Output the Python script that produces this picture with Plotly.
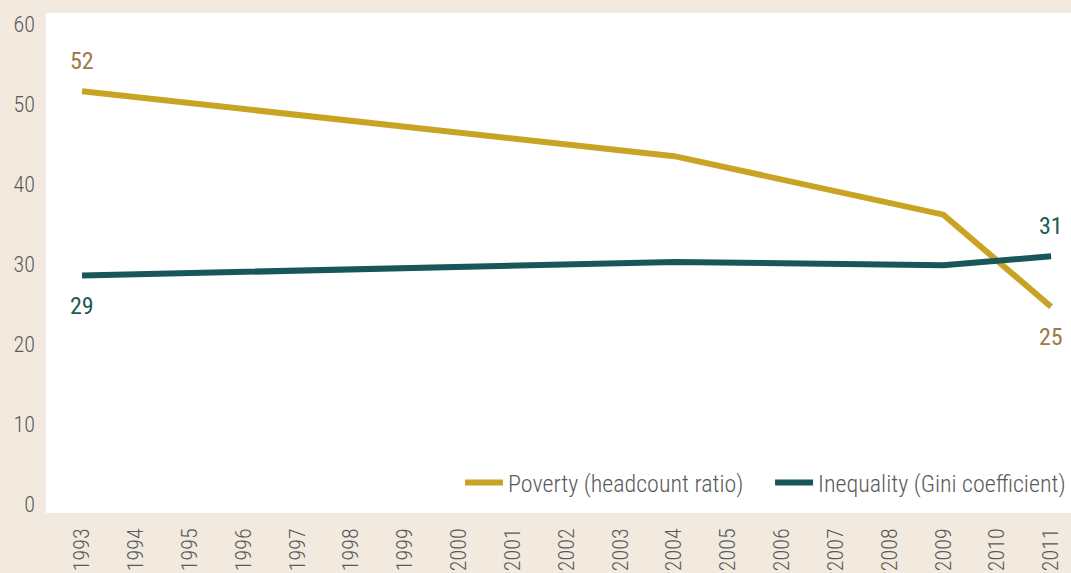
import plotly.graph_objects as go

# Survey years and the two indicators (percent / Gini index)
years = [1993, 2004, 2009, 2011]
poverty = [51.6, 43.5, 36.2, 24.7]
gini = [28.6, 30.3, 29.9, 31.0]
tick_years = list(range(1993, 2012))
y_ticks = [0, 10, 20, 30, 40, 50, 60]

GOLD = "#c9a424"
TEAL = "#17575a"
GOLD_TXT = "#9b7a45"
TEAL_TXT = "#1d5b57"
BG = "#f2eadf"
GREY = "#5a5a5a"
FONT = "Roboto Condensed, Roboto, sans-serif"
NBSP = "\u00a0"

fig = go.Figure()
fig.add_trace(go.Scatter(
    x=years, y=poverty, mode="lines",
    name="Poverty (headcount ratio)" + NBSP * 4,
    line=dict(color=GOLD, width=6),
))
fig.add_trace(go.Scatter(
    x=years, y=gini, mode="lines", name="Inequality (Gini coefficient)",
    line=dict(color=TEAL, width=6),
))

# End-point value labels
labels = [
    (years[0], poverty[0], GOLD_TXT, 30),
    (years[-1], poverty[-1], GOLD_TXT, -30),
    (years[0], gini[0], TEAL_TXT, -30),
    (years[-1], gini[-1], TEAL_TXT, 30),
]
for x, y, c, dy in labels:
    fig.add_annotation(
        x=x, y=y, text=f"{y:.0f}", showarrow=False, yshift=dy,
        font=dict(family=FONT, size=24, color=c, weight=400),
    )

fig.update_layout(
    width=1071, height=573,
    paper_bgcolor=BG, plot_bgcolor="white",
    margin=dict(l=46, r=0, t=13, b=60),
    font=dict(family=FONT, color=GREY, weight=300),
    showlegend=True,
    legend=dict(
        orientation="h", x=1, xanchor="right", y=0.015, yanchor="bottom",
        bgcolor="rgba(0,0,0,0)",
        font=dict(family=FONT, size=24, color=GREY, weight=300),
        itemwidth=38,
    ),
)
fig.update_xaxes(
    range=[1992.33, 2011.37], tickmode="array", tickvals=tick_years,
    ticktext=[str(t) for t in tick_years], tickangle=-90,
    showgrid=False, zeroline=False, showline=False,
    tickfont=dict(family=FONT, size=22, color=GREY, weight=300),
    ticklabelstandoff=10, automargin=False,
)
fig.update_yaxes(
    range=[-1.03, 61.37], tickmode="array", tickvals=y_ticks,
    showgrid=False, zeroline=False, showline=False,
    tickfont=dict(family=FONT, size=22, color=GREY, weight=300),
    ticklabelstandoff=10, automargin=False,
)

fig.write_html("out.html")
